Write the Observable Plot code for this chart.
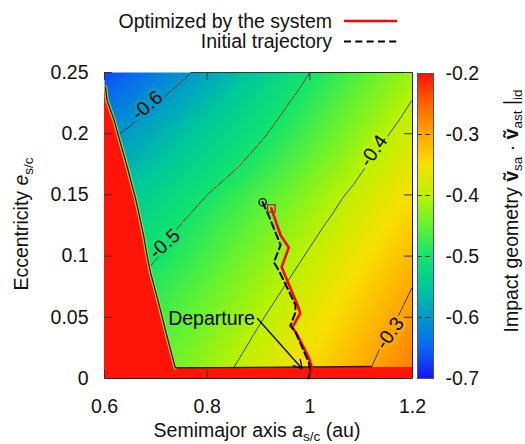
<!DOCTYPE html>
<html><head><meta charset="utf-8">
<script src="https://cdn.jsdelivr.net/npm/d3@7"></script>
<script src="https://cdn.jsdelivr.net/npm/@observablehq/plot@0.6"></script>
<style>
body{margin:0;background:#fff}
#wrap{position:relative;width:525px;height:444px;overflow:hidden;font-family:"Liberation Sans",Arial,sans-serif}
#wrap svg{position:absolute;top:0}
</style>
</head><body><div id="wrap"></div><script>
// ---- grid of the field (semimajor axis a, eccentricity e) ----
const aGrid = [0.6,0.65,0.7,0.75,0.8,0.85,0.9,0.95,1.0,1.05,1.1,1.15,1.2];
const eGrid = [0,0.025,0.05,0.075,0.1,0.125,0.15,0.175,0.2,0.225,0.25];
const v_e000 = [-0.489,-0.470,-0.452,-0.433,-0.415,-0.396,-0.378,-0.359,-0.341,-0.322,-0.304,-0.285,-0.267];
const v_e025 = [-0.497,-0.479,-0.461,-0.444,-0.427,-0.409,-0.391,-0.372,-0.353,-0.333,-0.314,-0.295,-0.276];
const v_e050 = [-0.507,-0.490,-0.473,-0.456,-0.439,-0.422,-0.404,-0.386,-0.366,-0.347,-0.328,-0.308,-0.289];
const v_e075 = [-0.519,-0.502,-0.485,-0.468,-0.451,-0.434,-0.417,-0.400,-0.380,-0.360,-0.340,-0.320,-0.300];
const v_e100 = [-0.535,-0.519,-0.502,-0.485,-0.467,-0.449,-0.432,-0.414,-0.396,-0.376,-0.356,-0.336,-0.316];
const v_e125 = [-0.545,-0.529,-0.514,-0.499,-0.481,-0.464,-0.446,-0.428,-0.410,-0.392,-0.372,-0.352,-0.332];
const v_e150 = [-0.561,-0.546,-0.531,-0.515,-0.500,-0.482,-0.463,-0.445,-0.426,-0.407,-0.388,-0.368,-0.348];
const v_e175 = [-0.587,-0.571,-0.555,-0.539,-0.522,-0.506,-0.487,-0.467,-0.446,-0.426,-0.405,-0.385,-0.365];
const v_e200 = [-0.610,-0.593,-0.576,-0.558,-0.541,-0.524,-0.507,-0.487,-0.466,-0.444,-0.423,-0.402,-0.382];
const v_e225 = [-0.640,-0.621,-0.601,-0.582,-0.562,-0.543,-0.523,-0.504,-0.483,-0.462,-0.441,-0.419,-0.398];
const v_e250 = [-0.672,-0.651,-0.629,-0.608,-0.586,-0.565,-0.543,-0.522,-0.500,-0.479,-0.458,-0.438,-0.417];
const fieldRows = [v_e000,v_e025,v_e050,v_e075,v_e100,v_e125,v_e150,v_e175,v_e200,v_e225,v_e250];

// ---- infeasible region boundary (left) and floor ----
const boundaryA = [0.602,0.605,0.618,0.628,0.634,0.641,0.651,0.660,0.670,0.677,0.684,0.690,0.699,0.709,0.719,0.729,0.738];
const boundaryE = [0.238,0.227,0.212,0.197,0.188,0.178,0.162,0.148,0.129,0.115,0.098,0.086,0.072,0.056,0.039,0.023,0.0087];
const floorA = [0.738,1.12];
const floorE = [0.0087,0.0098];
const eFloor = 0.009;

// ---- trajectories ----
const optA = [0.925,0.943,0.959,0.945,0.978,0.981,0.966,0.975,0.998,1.004,1.000];
const optE = [0.139,0.117,0.107,0.091,0.058,0.053,0.042,0.036,0.017,0.009,0.002];
const iniA = [0.908,0.920,0.943,0.930,0.940,0.972,0.972,0.962,0.972,0.998,1.001,0.997];
const iniE = [0.144,0.133,0.109,0.095,0.088,0.060,0.054,0.043,0.038,0.013,0.0065,0.0];

// ---- contour levels and labels ----
const contourLevels = [-0.6,-0.5,-0.4,-0.3];
const labelA = [0.683,0.717,1.124,1.156];
const labelE = [0.223,0.110,0.186,0.037];
const labelRot = [-41,-42,-55,-54];

// ---- departure annotation ----
const departure = {tx:0.893, ty:0.049, x1:0.898, y1:0.049, x2:0.985, y2:0.008, label:"Departure"};

// ---- ticks ----
const xTicks = [0.6,0.8,1.0,1.2];
const yTicks = [0,0.05,0.1,0.15,0.2,0.25];
const barTicks = [-0.7,-0.6,-0.5,-0.4,-0.3,-0.2];
const barInnerTicks = [-0.6,-0.5,-0.4,-0.3];

// ---- colour map ----
const colorStops = [-0.7,-0.65,-0.6,-0.55,-0.5,-0.45,-0.4,-0.35,-0.3,-0.25,-0.2];
const colorRange = ["#1414ff","#0a66f0","#0098cc","#00c89c","#12e46c","#62f232","#bcf200","#f8e000","#ffa800","#ff6400","#ff1000"];

const RED = "#ff140a";
const FONT = '"Liberation Sans", Arial, sans-serif';
const FS = 19.5;

const field = eGrid.flatMap((e,i) => aGrid.map((a,j) => ({a, e, v: fieldRows[i][j]})));
const boundary = boundaryA.map((a,i) => ({a, e: boundaryE[i]}));
const floorEdge = floorA.map((a,i) => ({a, e: floorE[i]}));
const optimized = optA.map((a,i) => ({a, e: optE[i]}));
const initial = iniA.map((a,i) => ({a, e: iniE[i]}));
const labels = contourLevels.map((v,i) => ({a: labelA[i], e: labelE[i], v, rot: labelRot[i], text: v.toFixed(1)}));
const color = {type:"linear", domain: colorStops, range: colorRange, clamp: true};
const tA = 0.0156, tE = 0.0065; // inward tick lengths

const main = Plot.plot({
  width: 525, height: 444,
  marginTop: 72, marginRight: 113, marginBottom: 66, marginLeft: 104,
  style: {fontFamily: FONT, fontSize: FS + "px", color: "#111", background: "transparent"},
  x: {domain: [0.6, 1.2], ticks: xTicks, tickFormat: d => String(+d.toFixed(2)), tickSize: 0, tickPadding: 21, label: null},
  y: {domain: [0, 0.25], ticks: yTicks, tickFormat: d => String(+d.toFixed(2)), tickSize: 0, tickPadding: 16, label: null},
  color,
  marks: [
    Plot.raster(field, {x: "a", y: "e", fill: "v", interpolate: "barycentric", blur: 3, x1: 0.6, x2: 1.2, y1: 0, y2: 0.25}),
    Plot.contour(field, {x: "a", y: "e", value: "v", interpolate: "barycentric", thresholds: contourLevels, pixelSize: 1,
      x1: 0.6, x2: 1.2, y1: 0, y2: 0.25, stroke: "#1c1c1c", strokeWidth: 0.85, fill: "none"}),
    Plot.areaX(boundary, {y: "e", x1: 0.6, x2: "a", fill: RED, curve: "linear"}),
    Plot.rect([{}], {x1: 0.6, x2: 1.2, y1: 0, y2: eFloor, fill: RED}),
    Plot.line(boundary, {x: "a", y: "e", stroke: "#b8d830", strokeWidth: 3.6, strokeOpacity: 0.85}),
    Plot.line(boundary.concat(floorEdge.slice(1)), {x: "a", y: "e", stroke: "#1c1c1c", strokeWidth: 1.3}),
    Plot.ruleX(xTicks, {x: d => d, y1: 0, y2: tE, stroke: "#333", strokeWidth: 1}),
    Plot.ruleX(xTicks, {x: d => d, y1: 0.25 - tE, y2: 0.25, stroke: "#333", strokeWidth: 1}),
    Plot.ruleY(yTicks, {y: d => d, x1: 0.6, x2: 0.6 + tA, stroke: "#333", strokeWidth: 1}),
    Plot.ruleY(yTicks, {y: d => d, x1: 1.2 - tA, x2: 1.2, stroke: "#333", strokeWidth: 1}),
    Plot.text(labels, {x: "a", y: "e", text: "text", rotate: "rot", fill: "#000", stroke: "v", strokeWidth: 7, paintOrder: "stroke", fontSize: FS}),
    Plot.line(optimized, {x: "a", y: "e", stroke: "#ff0000", strokeWidth: 2.6}),
    Plot.line(initial, {x: "a", y: "e", stroke: "#000", strokeWidth: 2, strokeDasharray: "7,4"}),
    Plot.dot(initial.slice(0,1), {x: "a", y: "e", r: 3.6, stroke: "#000", fill: "none", strokeWidth: 1.3}),
    Plot.dot(optimized.slice(0,1), {x: "a", y: "e", symbol: "square", r: 4.2, stroke: "#e01010", fill: "none", strokeWidth: 1.3}),
    Plot.arrow([departure], {x1: "x1", y1: "y1", x2: "x2", y2: "y2", stroke: "#000", strokeWidth: 1.3, headLength: 11}),
    Plot.text([departure], {x: "tx", y: "ty", text: "label", textAnchor: "end", fill: "#000", fontSize: FS})
  ]
});

const bar = Plot.plot({
  width: 108, height: 444,
  marginTop: 73, marginBottom: 66, marginLeft: 0, marginRight: 92,
  style: {fontFamily: FONT, fontSize: FS + "px", color: "#111", background: "transparent"},
  x: {domain: [0, 1], axis: null},
  y: {domain: [-0.7, -0.2], axis: "right", ticks: barTicks, tickFormat: d => d.toFixed(1), tickSize: 0, tickPadding: 12, label: null},
  color,
  marks: [
    Plot.raster({x1: 0, x2: 1, y1: -0.7, y2: -0.2, fill: (x, y) => y}),
    Plot.ruleY(barInnerTicks, {y: d => d, stroke: "#333", strokeWidth: 1, strokeDasharray: "5,3"}),
    Plot.frame({stroke: "#555", strokeWidth: 1})
  ]
});

const wrap = document.getElementById("wrap");
wrap.appendChild(main);
bar.style.left = "417px";
wrap.appendChild(bar);

const ms = d3.select(main);
function label(sel, attrs) {
  const t = sel.append("text").attr("font-family", FONT).attr("font-size", FS).attr("fill", "#111");
  for (const k in attrs) t.attr(k, attrs[k]);
  return t;
}
// legend
label(ms, {x: 332, y: 28, "text-anchor": "end"}).text("Optimized by the system");
label(ms, {x: 332, y: 48, "text-anchor": "end"}).text("Initial trajectory");
ms.append("line").attr("x1", 344).attr("x2", 397).attr("y1", 21).attr("y2", 21).attr("stroke", "#ff0000").attr("stroke-width", 2.6);
ms.append("line").attr("x1", 344).attr("x2", 397).attr("y1", 41.5).attr("y2", 41.5).attr("stroke", "#000").attr("stroke-width", 1.8).attr("stroke-dasharray", "7,4.3");

// x axis label
const xl = label(ms, {x: 257, y: 437, "text-anchor": "middle"});
xl.append("tspan").text("Semimajor axis ");
xl.append("tspan").attr("font-style", "italic").text("a");
xl.append("tspan").attr("dy", 4).attr("font-size", 13.5).text("s/c");
xl.append("tspan").attr("dy", -4).text(" (au)");

// y axis label
const yl = label(ms, {transform: "translate(28,224) rotate(-90)", "text-anchor": "middle"});
yl.append("tspan").text("Eccentricity ");
yl.append("tspan").attr("font-style", "italic").text("e");
yl.append("tspan").attr("dy", 5).attr("font-size", 13.5).text("s/c");

// colour bar label
const bs = d3.select(bar);
const cl = label(bs, {transform: "translate(101,211) rotate(-90)", "text-anchor": "middle"});
cl.append("tspan").text("Impact geometry ");
cl.append("tspan").attr("font-weight", "bold").text("v\u0303");
cl.append("tspan").attr("dy", 4).attr("font-size", 13.5).text("sa");
cl.append("tspan").attr("dy", -4).text(" \u00b7 ");
cl.append("tspan").attr("font-weight", "bold").text("v\u0303");
cl.append("tspan").attr("dy", 4).attr("font-size", 13.5).text("ast");
cl.append("tspan").attr("dy", -4).text(" |");
cl.append("tspan").attr("dy", 4).attr("font-size", 13.5).text("id");
</script></body></html>
